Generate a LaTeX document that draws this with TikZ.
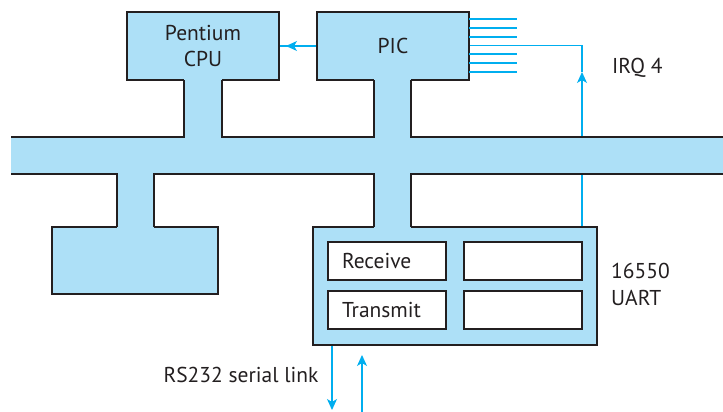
\documentclass[tikz,border=0pt]{standalone}
\usepackage{fontspec}
\setmainfont{PT Sans}
\usetikzlibrary{arrows.meta}
\definecolor{busfill}{HTML}{ADE0F7}
\definecolor{sigblue}{HTML}{00AEEF}
\definecolor{edge}{HTML}{231F20}
\tikzset{
  box/.style={draw=edge, fill=busfill, line width=1.6pt, inner sep=0pt},
  cell/.style={draw=edge, fill=white, line width=1.4pt, minimum width=118pt, minimum height=38pt, inner sep=0pt},
  celltext/.style={cell, text width=90pt, inner xsep=14pt, align=left},
  edgeline/.style={draw=edge, line width=1.6pt},
  sig/.style={draw=sigblue, line width=1.2pt},
  sigarrow/.style={sig, -{Stealth[length=11pt, width=10pt, inset=3pt]}},
  lbl/.style={font=\fontsize{21.5}{24}\selectfont, text=edge, inner sep=0pt}
}
\begin{document}
\begin{tikzpicture}[x=1pt,y=-1pt]
\useasboundingbox (0,0) rectangle (723,412);
% IRQ line (behind bus)
\coordinate (irqbot) at (582,227);
\coordinate (irqmid) at (582,72);
\coordinate (irqtop) at (582,45.5);
\draw[sigarrow] (irqbot) -- (irqmid);
\draw[sig] (irqmid) -- (irqtop) -- (469,45.5);
% boxes
\node[box, minimum width=152pt, minimum height=68pt, align=center, lbl, font=\fontsize{21.5}{26}\selectfont] (cpu) at (203,46) {Pentium\\CPU};
\node[box, minimum width=152pt, minimum height=68pt, lbl] (pic) at (393,46) {PIC};
\node[box, minimum width=166pt, minimum height=67pt] (mem) at (135,260.5) {};
\node[box, minimum width=284pt, minimum height=118pt] (uart) at (455,286) {};
% bus
\fill[busfill] (11,137) rectangle (723,174);
% stems
\fill[busfill] (184,79) rectangle (222,138);
\fill[busfill] (374,79) rectangle (411,138);
\fill[busfill] (117,173) rectangle (154,228);
\fill[busfill] (374,173) rectangle (411,228);
% outlines of bus and stems
\draw[edgeline] (11,137) -- (184,137) -- (184,80);
\draw[edgeline] (222,80) -- (222,137) -- (374,137) -- (374,80);
\draw[edgeline] (411,80) -- (411,137) -- (723,137);
\draw[edgeline] (11,174) -- (117,174) -- (117,227);
\draw[edgeline] (154,227) -- (154,174) -- (374,174) -- (374,227);
\draw[edgeline] (411,227) -- (411,174) -- (723,174);
% UART cells
\node[celltext, lbl, font=\fontsize{21.5}{24}\selectfont] (rx) at (387,261) {Receive};
\node[celltext, lbl, font=\fontsize{21.5}{24}\selectfont] (tx) at (387,310) {Transmit};
\node[cell] (rxb) at (523,261) {};
\node[cell] (txb) at (523,310) {};
% PIC input lines
\foreach \yy in {19,28,37,54,63,72} \draw[sig] (469,\yy) -- (517,\yy);
% PIC -> CPU
\coordinate (cpuarr) at (286,46);
\draw[sig] (pic.west |- 0,46) -- (cpu.east |- 0,46);
\draw[sigarrow] (pic.west |- 0,46) -- (cpuarr);
% serial link
\coordinate (txout) at (332,410);
\coordinate (rxin) at (362,412);
\coordinate (rxtip) at (362,355);
\draw[sigarrow] (uart.south -| txout) -- (txout);
\draw[sigarrow] (rxin) -- (rxtip);
% labels
\node[lbl, anchor=west] (irq) at (612,68) {IRQ 4};
\node[lbl, anchor=west, align=left, font=\fontsize{21.5}{27}\selectfont] (uartlbl) at (611,284) {16550\\UART};
\node[lbl] (rs) at (241,375) {RS232 serial link};
\end{tikzpicture}
\end{document}
